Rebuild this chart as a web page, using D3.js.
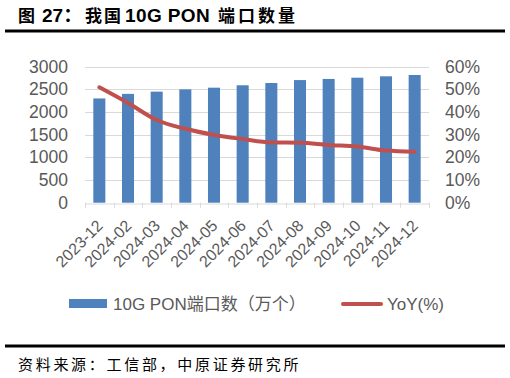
<!DOCTYPE html>
<html><head><meta charset="utf-8">
<script src="https://cdn.jsdelivr.net/npm/d3@7"></script>
<style>
body{margin:0;background:#fff;}
svg{display:block;}
text{font-family:"Liberation Sans",Arial,sans-serif;}
</style></head>
<body><svg id="c" width="510" height="378"></svg>
<script>
const categories=["2023-12","2024-02","2024-03","2024-04","2024-05","2024-06","2024-07","2024-08","2024-09","2024-10","2024-11","2024-12"];
const ports=[2300,2400,2450,2500,2537,2590,2640,2705,2730,2757,2788,2817];
const yoy=[50.9,44.0,36.5,32.6,29.9,28.1,26.6,26.5,25.5,24.8,23.0,22.5];
const leftTicks=[0,500,1000,1500,2000,2500,3000];
const rightTicks=[0,10,20,30,40,50,60];
const titleParts=["图","27：","我国","10G PON","端口数量"];
const source="资料来源：工信部，中原证券研究所";
const seriesNames=["10G PON端口数（万个）","YoY(%)"];

const svg=d3.select("#c");
const L=85,R=429,T=66.7,B=202.7;
const x=d3.scaleBand().domain(categories).range([L,R]).paddingInner(0.58).paddingOuter(0.29);
const xb=d3.scaleBand().domain(categories).range([L,R]);
const yl=d3.scaleLinear().domain([0,3000]).range([B,T]);
const yr=d3.scaleLinear().domain([0,60]).range([B,T]);
const grey="#595959";
const cjk="'Liberation Sans','Noto Sans CJK SC',sans-serif";

// title
const tt=svg.append("text").attr("y",22).attr("font-size",19).attr("font-weight","bold")
  .attr("fill","#000").style("font-family",cjk);
const tx=[18,42,85,125,218], tls=[0,0,2,0.4,3], tfs=[17,19,17,19,17];
titleParts.forEach((p,i)=>tt.append("tspan").attr("x",tx[i]).attr("font-size",tfs[i]).attr("letter-spacing",tls[i]).text(p));
svg.append("rect").attr("x",5).attr("y",29.5).attr("width",500).attr("height",3).attr("fill","#000");

// grid
svg.append("g").selectAll("line").data(leftTicks.slice(1)).join("line")
  .attr("x1",L).attr("x2",R).attr("y1",d=>Math.round(yl(d))+0.5).attr("y2",d=>Math.round(yl(d))+0.5)
  .attr("stroke","#d9d9d9").attr("stroke-width",1);

// bars
svg.append("g").selectAll("rect").data(categories).join("rect")
  .attr("x",(d)=>x(d)).attr("width",x.bandwidth())
  .attr("y",(d,i)=>yl(ports[i])).attr("height",(d,i)=>B-yl(ports[i]))
  .attr("fill","#4F81BD");

// x axis
const xa=svg.append("g").attr("transform",`translate(0,${Math.round(B)+0.5})`)
  .call(d3.axisBottom(xb).tickSize(0).tickFormat(""));
xa.select(".domain").attr("stroke","#d9d9d9");
const bounds=categories.map(c=>xb(c)).concat([R]);
svg.append("g").selectAll("line").data(bounds).join("line")
  .attr("x1",d=>Math.round(d)+0.5).attr("x2",d=>Math.round(d)+0.5)
  .attr("y1",B).attr("y2",B+5).attr("stroke","#d9d9d9");

svg.append("g").selectAll("text").data(categories).join("text")
  .attr("transform",d=>`translate(${xb(d)+xb.bandwidth()/2+4.5},${B+24}) rotate(-45)`)
  .attr("text-anchor","end").attr("font-size",16).attr("fill",grey).text(d=>d);

// left axis
const la=svg.append("g").attr("transform",`translate(${L},0)`)
  .call(d3.axisLeft(yl).tickValues(leftTicks).tickSize(0).tickPadding(17).tickFormat(d3.format("d")));
la.select(".domain").remove();
la.selectAll("text").attr("font-size",17.5).attr("fill",grey).style("font-family","'Liberation Sans',Arial,sans-serif");

// right axis
const ra=svg.append("g").attr("transform",`translate(${R},0)`)
  .call(d3.axisRight(yr).tickValues(rightTicks).tickSize(0).tickPadding(16).tickFormat(d=>d+"%"));
ra.select(".domain").remove();
ra.selectAll("text").attr("font-size",17.5).attr("fill",grey).style("font-family","'Liberation Sans',Arial,sans-serif");

// line
const line=d3.line().x((d,i)=>xb(categories[i])+xb.bandwidth()/2).y(d=>yr(d)).curve(d3.curveMonotoneX);
svg.append("path").datum(yoy).attr("d",line).attr("fill","none")
  .attr("stroke","#C0504D").attr("stroke-width",4).attr("stroke-linecap","round");

// legend
svg.append("rect").attr("x",69).attr("y",299).attr("width",38).attr("height",9).attr("fill","#4F81BD");
svg.append("text").attr("x",113).attr("y",310).attr("font-size",17).attr("fill",grey)
  .style("font-family",cjk).text(seriesNames[0]);
svg.append("line").attr("x1",343).attr("x2",381).attr("y1",304).attr("y2",304)
  .attr("stroke","#C0504D").attr("stroke-width",4).attr("stroke-linecap","round");
svg.append("text").attr("x",387).attr("y",310).attr("font-size",17).attr("fill",grey).text(seriesNames[1]);

// bottom rule + source
svg.append("rect").attr("x",5).attr("y",344.5).attr("width",500).attr("height",3).attr("fill","#000");
svg.append("text").attr("x",18).attr("y",370).attr("font-size",15).attr("letter-spacing",2.7).attr("fill","#000")
  .style("font-family","'Noto Sans CJK SC',sans-serif").text(source);
</script></body></html>
